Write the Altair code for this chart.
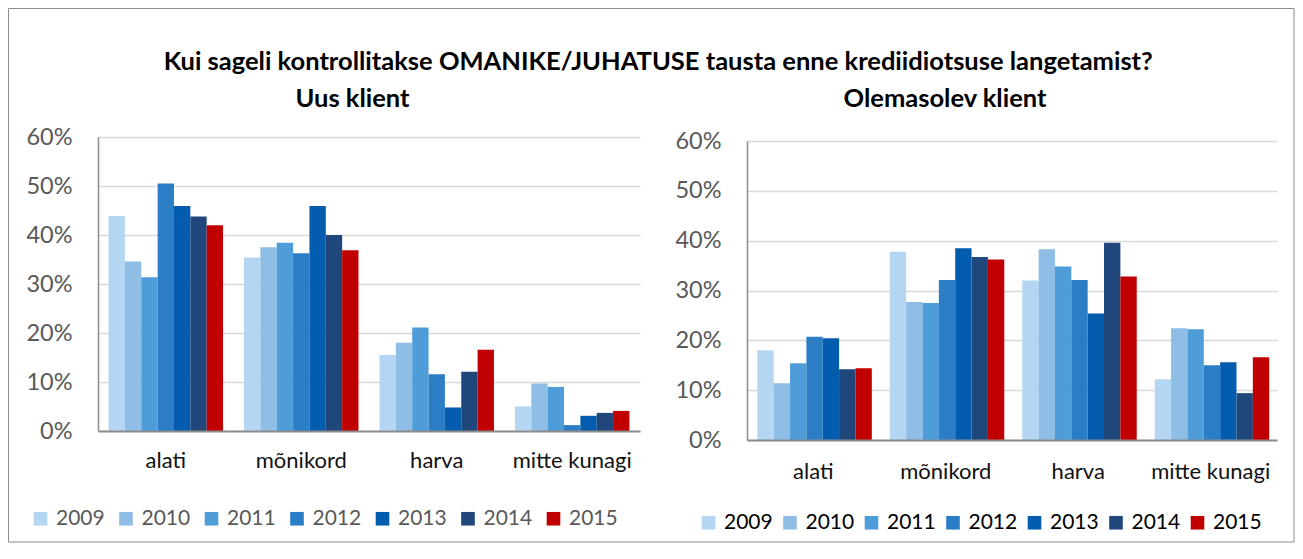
import altair as alt
import pandas as pd

categories = ["alati", "mõnikord", "harva", "mitte kunagi"]
years = ["2009", "2010", "2011", "2012", "2013", "2014", "2015"]
colors = ["#B4D6F3", "#8EBDE6", "#4E9CD8", "#2B7EC6", "#045CAE", "#1F477B", "#C00000"]

# Uus klient (share of answers per category: alati, mõnikord, harva, mitte kunagi)
uus_2009 = [0.439, 0.354, 0.155, 0.050]
uus_2010 = [0.346, 0.375, 0.180, 0.097]
uus_2011 = [0.314, 0.384, 0.211, 0.090]
uus_2012 = [0.505, 0.363, 0.116, 0.012]
uus_2013 = [0.459, 0.459, 0.048, 0.031]
uus_2014 = [0.438, 0.400, 0.121, 0.037]
uus_2015 = [0.420, 0.369, 0.166, 0.041]

# Olemasolev klient
ole_2009 = [0.180, 0.378, 0.320, 0.122]
ole_2010 = [0.114, 0.277, 0.383, 0.224]
ole_2011 = [0.154, 0.275, 0.348, 0.222]
ole_2012 = [0.207, 0.321, 0.321, 0.150]
ole_2013 = [0.204, 0.385, 0.254, 0.156]
ole_2014 = [0.142, 0.367, 0.396, 0.094]
ole_2015 = [0.144, 0.362, 0.328, 0.166]

main_title = "Kui sageli kontrollitakse OMANIKE/JUHATUSE tausta enne krediidiotsuse langetamist?"
left_title = "Uus klient"
right_title = "Olemasolev klient"

FONT = "Lato"
TITLE_SIZE = 25.5


def to_frame(series):
    rows = []
    for year, vals in zip(years, series):
        for cat, v in zip(categories, vals):
            rows.append({"kategooria": cat, "aasta": year, "osakaal": v})
    return pd.DataFrame(rows)


df_uus = to_frame([uus_2009, uus_2010, uus_2011, uus_2012, uus_2013, uus_2014, uus_2015])
df_ole = to_frame([ole_2009, ole_2010, ole_2011, ole_2012, ole_2013, ole_2014, ole_2015])


def bars(df, yrange, label_color, legend_x, legend_y, col_pad, xlabel_pad):
    return alt.Chart(df).mark_bar().encode(
        x=alt.X(
            "kategooria:N",
            sort=categories,
            scale=alt.Scale(paddingInner=0.155, paddingOuter=0.078),
            axis=alt.Axis(
                title=None, labelAngle=0, ticks=False, labelFont=FONT,
                labelFontSize=22, labelColor="#111111", labelPadding=xlabel_pad,
                domainColor="#8C8C8C", domainWidth=2, zindex=1,
            ),
        ),
        xOffset=alt.XOffset("aasta:N", sort=years, scale=alt.Scale(paddingInner=0, paddingOuter=0)),
        y=alt.Y(
            "osakaal:Q",
            scale=alt.Scale(domain=[0, 0.6], nice=False, range=yrange),
            axis=alt.Axis(
                title=None, format=".0%", values=[0, 0.1, 0.2, 0.3, 0.4, 0.5, 0.6],
                ticks=False, labelFont=FONT, labelFontSize=23.5, labelColor="#595959",
                labelPadding=26, domainColor="#8C8C8C", domainWidth=1.5,
                gridColor="#D9D9D9", gridWidth=1.5,
            ),
        ),
        color=alt.Color(
            "aasta:N",
            sort=years,
            scale=alt.Scale(domain=years, range=colors),
            legend=alt.Legend(
                title=None, orient="none", direction="horizontal", columns=7,
                legendX=legend_x, legendY=legend_y, symbolType="square",
                symbolSize=185, symbolStrokeWidth=0, labelFont=FONT,
                labelFontSize=21, labelColor=label_color, labelOffset=5,
                columnPadding=col_pad,
            ),
        ),
    )


border = alt.Chart(alt.Data(values=[{}])).mark_rect(
    fillOpacity=0, stroke="#8C8C8C", strokeWidth=1
).encode(
    x=alt.value(-89.5), x2=alt.value(1196), y=alt.value(-128.5), y2=alt.value(405)
)

left = alt.layer(
    bars(df_uus, [294, 0], "#595959", -68, 371, 10.5, 19.5), border
).properties(
    width=542, height=294,
    title=alt.TitleParams(left_title, anchor="middle", frame="group", dx=-16.5,
                          offset=-104, font=FONT, fontSize=TITLE_SIZE, fontWeight="bold",
                          color="#000000"),
)

right = bars(df_ole, [303, 4], "#000000", -49, 375, 6.5, 21).properties(
    width=530, height=303,
    title=alt.TitleParams(right_title, anchor="middle", frame="group", dx=-67,
                          offset=17, font=FONT, fontSize=TITLE_SIZE, fontWeight="bold",
                          color="#000000"),
)

chart = alt.hconcat(left, right, spacing=107, bounds="flush").resolve_legend(
    color="independent"
).properties(
    title=alt.TitleParams(main_title, anchor="middle", frame="bounds", dx=7,
                          offset=-67, font=FONT, fontSize=TITLE_SIZE, fontWeight="bold",
                          color="#000000"),
    padding=0,
).configure_view(strokeWidth=0)

chart.save("out.html", embed_options={"renderer": "svg", "actions": False})
